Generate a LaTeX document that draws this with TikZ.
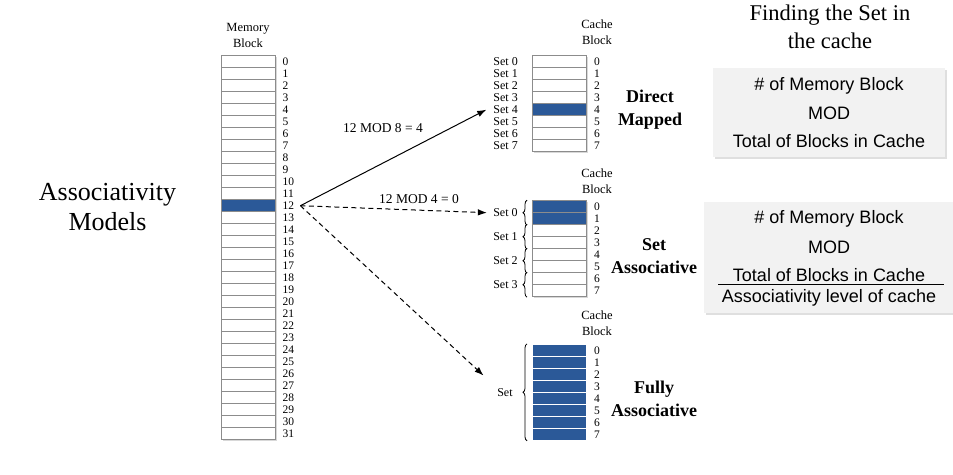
\documentclass[tikz,border=0pt]{standalone}
\usepackage{fontspec}
\setmainfont{Liberation Serif}
\newfontfamily\arial{Liberation Sans}
\usetikzlibrary{positioning,decorations.pathreplacing,shadows,arrows.meta}
\definecolor{hitclr}{RGB}{43,89,152}
\definecolor{cellclr}{RGB}{140,140,140}
\definecolor{boxclr}{RGB}{242,242,242}
\tikzset{ %
  ,>={Latex[length=9pt, width=6.5pt]}
  ,blk/.style={draw=cellclr, fill=white, line width=1pt, minimum width=54pt, minimum height=12pt, inner sep=0, drop shadow={shadow xshift=1.5pt, shadow yshift=-1.5pt, fill=black!30}}
  ,hit/.style={blk, fill=hitclr}
  ,full/.style={draw=white, fill=hitclr, line width=1pt, minimum width=54pt, minimum height=12pt, inner sep=0}
  ,idx/.style={inner sep=0, font=\fontsize{11.5}{12}\selectfont}
  ,setlbl/.style={inner sep=0, font=\fontsize{12}{12}\selectfont}
  ,head/.style={align=center, inner sep=0, font=\fontsize{12.5}{16}\selectfont}
  ,kind/.style={align=center, inner sep=0, font=\bfseries\fontsize{18}{23}\selectfont}
  ,calc/.style={inner sep=0, font=\fontsize{13.5}{14}\selectfont}
  ,link/.style={->, line width=1pt}
  ,dlink/.style={link, dash pattern=on 5pt off 3.5pt}
  ,formula/.style={fill=boxclr, inner sep=0, drop shadow={shadow xshift=2pt, shadow yshift=-2pt, fill=black!25}}
  ,ftxt/.style={inner sep=0, font=\arial\fontsize{18}{18}\selectfont}
  ,brc/.style={decorate, decoration={brace, amplitude=4pt}, line width=0.8pt}
}
\begin{document}
\begin{tikzpicture}[x=1pt, y=-1pt]
  \clip (0,0) rectangle (953,474);

  % title on the left
  \node[align=center, inner sep=0, font=\fontsize{26}{30}\selectfont] (title) at (107.5,206.7) {Associativity\\Models};

  % memory blocks
  \node[head] (mhead) at (248,35.8) {Memory\\Block};
  \foreach \i in {0,...,31}{
    \ifnum\i=12 \def\st{hit}\else\def\st{blk}\fi
    \node[\st] (m\i) at (248,{61.7+12*\i}) {};
    \node[idx, right=7pt of m\i] (n\i) {\i};
  }

  % direct mapped
  \node[head] (dhead) at (597,32.5) {Cache\\Block};
  \foreach \i in {0,...,7}{
    \ifnum\i=4 \def\st{hit}\else\def\st{blk}\fi
    \node[\st] (d\i) at (559.5,{61.7+12*\i}) {};
    \node[idx, right=7pt of d\i] (dn\i) {\i};
    \node[setlbl, left=14pt of d\i] (ds\i) {Set \i};
  }
  \node[kind] (dkind) at (650,109.3) {Direct\\Mapped};

  % set associative
  \node[head] (shead) at (597,181) {Cache\\Block};
  \foreach \i in {0,...,7}{
    \ifnum\i<2 \def\st{hit}\else\def\st{blk}\fi
    \node[\st] (s\i) at (559.5,{206.7+12*\i}) {};
    \node[idx, right=7pt of s\i] (sn\i) {\i};
  }
  \foreach \k in {0,...,3}{
    \pgfmathtruncatemacro\a{2*\k}
    \pgfmathtruncatemacro\b{2*\k+1}
    \draw[brc] ([xshift=-5pt]s\b.south west) -- node[setlbl, midway, left=9pt] (ss\k) {Set \k} ([xshift=-5pt]s\a.north west);
  }
  \node[kind] (skind) at (654,256) {Set\\Associative};

  % fully associative
  \node[head] (fhead) at (597,323.7) {Cache\\Block};
  \foreach \i in {0,...,7}{
    \node[full] (f\i) at (559.5,{350.3+12*\i}) {};
    \node[idx, right=7pt of f\i] (fn\i) {\i};
  }
  \draw[brc] ([xshift=-5pt]f7.south west) -- node[setlbl, midway, left=14pt] (fs) {Set} ([xshift=-5pt]f0.north west);
  \node[kind] (fkind) at (654,399.3) {Fully\\Associative};

  % arrows
  \coordinate (src) at ([xshift=6pt]n12.east);
  \coordinate (fa) at (483.5,375.5);
  \draw[link] (src) -- ([xshift=-7pt]ds4.west);
  \draw[dlink] (src) -- ([xshift=-6pt]ss0.west);
  \draw[dlink] (src) -- (fa);
  \node[calc] (c1) at (383,128) {12 MOD 8 = 4};
  \node[calc] (c2) at (419,199) {12 MOD 4 = 0};

  % formulas
  \node[align=center, inner sep=0, font=\fontsize{22.5}{28}\selectfont] (fhd) at (830,27) {Finding the Set in\\the cache};
  \node[formula, minimum width=232pt, minimum height=89pt] (fb1) at (829,112.5) {};
  \node[ftxt] (fb1a) at (829,86) {\# of Memory Block};
  \node[ftxt] (fb1b) at (829,113) {MOD};
  \node[ftxt] (fb1c) at (829,141) {Total of Blocks in Cache};
  \node[formula, minimum width=256pt, minimum height=111pt] (fb2) at (831.5,257.5) {};
  \node[ftxt] (fb2a) at (829,219) {\# of Memory Block};
  \node[ftxt] (fb2b) at (829,247) {MOD};
  \node[ftxt] (fb2c) at (829,275) {Total of Blocks in Cache};
  \draw[line width=0.8pt] (718,284.5) -- (944,284.5);
  \node[ftxt] (fb2d) at (829,298) {Associativity level of cache};
\end{tikzpicture}
\end{document}
